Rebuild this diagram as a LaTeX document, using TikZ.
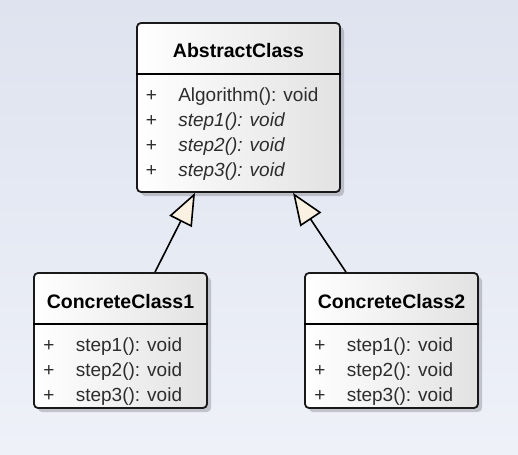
\documentclass[tikz,border=0pt]{standalone}
\usepackage{fontspec}
\setmainfont{Liberation Sans}
\usetikzlibrary{arrows.meta,positioning,shadows}
\definecolor{bgtop}{RGB}{222,227,239}
\definecolor{bgbot}{RGB}{238,241,248}
\definecolor{clsright}{RGB}{226,226,226}
\definecolor{opgray}{RGB}{45,45,45}
\definecolor{genfill}{RGB}{251,241,226}
\newcommand{\op}[1]{\makebox[32.5pt][l]{+}#1}

\begin{document}
\begin{tikzpicture}[
  x=1pt, y=-1pt,
  cls/.style={draw=black!90, line width=1.8pt, rounded corners=4pt,
    left color=white, right color=clsright, inner sep=0pt,
    drop shadow={shadow xshift=4pt, shadow yshift=-4pt, opacity=0.18, fill=black}},
  title/.style={font=\fontsize{19.5}{22}\selectfont\bfseries},
  meth/.style={anchor=west, inner sep=0pt, text=opgray, font=\fontsize{19}{22}\selectfont},
  gen/.style={-{Triangle[length=32pt, width=25pt, fill=genfill]}, line width=1.6pt}
]
  \useasboundingbox (0,0) rectangle (518,454);
  \fill[top color=bgtop, bottom color=bgbot] (0,0) rectangle (518,454);

  % classes
  \node[cls, minimum width=203pt, minimum height=169pt] (abs) at (238.5,107.5) {};
  \node[cls, minimum width=173pt, minimum height=135pt] (c1) at (120.5,340.5) {};
  \node[cls, minimum width=173pt, minimum height=135pt] (c2) at (391.5,340.5) {};

  \node[title] (absT) at ([yshift=-28pt]abs.north) {AbstractClass};
  \node[title] (c1T) at ([yshift=-29pt]c1.north) {ConcreteClass1};
  \node[title] (c2T) at ([yshift=-29pt]c2.north) {ConcreteClass2};

  \draw[line width=1.6pt] ([yshift=-52pt]abs.north west) -- ([yshift=-52pt]abs.north east);
  \draw[line width=1.6pt] ([yshift=-52pt]c1.north west) -- ([yshift=-52pt]c1.north east);
  \draw[line width=1.6pt] ([yshift=-52pt]c2.north west) -- ([yshift=-52pt]c2.north east);

  % operations
  \node[meth] (absM0) at ([xshift=9.5pt, yshift=-74.5pt]abs.north west) {\op{Algorithm(): void}};
  \foreach \i in {1,2,3}
    \node[meth] (absM\i) at ([xshift=9.5pt, yshift={-74.5pt-25pt*\i}]abs.north west) {\op{\itshape step\i(): void}};
  \foreach \c in {c1,c2}
    \foreach \i in {1,2,3}
      \node[meth] (\c M\i) at ([xshift=10pt, yshift={-49.5pt-25pt*\i}]\c.north west) {\op{step\i(): void}};

  % generalizations
  \draw[gen] ([xshift=34.5pt]c1.north) -- ([xshift=-43.5pt]abs.south);
  \draw[gen] ([xshift=-45.5pt]c2.north) -- ([xshift=54.5pt]abs.south);
\end{tikzpicture}
\end{document}
